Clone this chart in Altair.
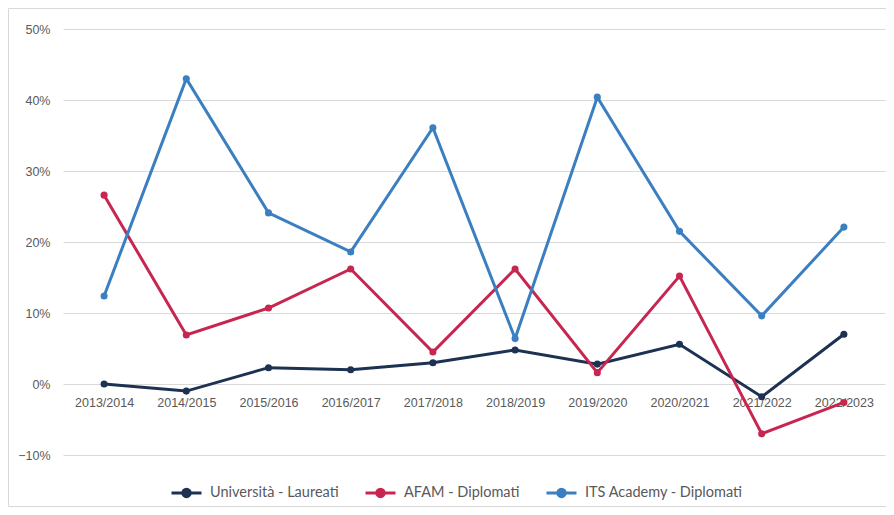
import altair as alt
import pandas as pd

anni = ["2013/2014", "2014/2015", "2015/2016", "2016/2017", "2017/2018",
        "2018/2019", "2019/2020", "2020/2021", "2021/2022", "2022/2023"]
serie = ["Università - Laureati", "AFAM - Diplomati", "ITS Academy - Diplomati"]
universita = [0.0, -1.0, 2.3, 2.0, 3.0, 4.8, 2.8, 5.6, -1.8, 7.0]
afam = [26.6, 6.9, 10.7, 16.2, 4.5, 16.2, 1.6, 15.2, -7.0, -2.6]
its = [12.4, 43.0, 24.1, 18.6, 36.1, 6.4, 40.4, 21.5, 9.6, 22.1]
colori = ["#1d3152", "#c72650", "#3b7fc1"]

rows = []
for s, vals in zip(serie, [universita, afam, its]):
    for a, v in zip(anni, vals):
        rows.append({"anno": a, "serie": s, "valore": v / 100})
df = pd.DataFrame(rows)

color = alt.Color(
    "serie:N",
    scale=alt.Scale(domain=serie, range=colori),
    legend=alt.Legend(
        title=None, orient="none", direction="horizontal",
        legendX=107, legendY=447,
        symbolType="M-1,0L1,0M-0.25,0a0.25,0.25 0 1,0 0.5,0a0.25,0.25 0 1,0 -0.5,0",
        symbolSize=900, symbolStrokeWidth=3,
        labelFont="Lato", labelFontSize=14.5, labelColor="#595959",
        columnPadding=20, labelOffset=7,
    ),
)

x = alt.X(
    "anno:N", sort=anni, title=None,
    scale=alt.Scale(paddingInner=0, paddingOuter=0),
    axis=alt.Axis(offset=-71, domain=False, ticks=False, labelAngle=0,
                  labelPadding=12, labelFont="Liberation Sans", labelFontSize=12.5,
                  labelColor="#595959", grid=False),
)
y = alt.Y(
    "valore:Q", title=None,
    scale=alt.Scale(domain=[-0.1, 0.5], nice=False, zero=False),
    axis=alt.Axis(format=".0%", values=[-0.1, 0, 0.1, 0.2, 0.3, 0.4, 0.5],
                  domain=False, ticks=False, labelPadding=13,
                  labelFont="Liberation Sans", labelFontSize=12.5,
                  labelColor="#595959", gridColor="#d9d9d9", gridWidth=1),
)

border = alt.Chart(pd.DataFrame({"a": [0]})).mark_rect(
    fill=None, stroke="#d9d9d9", strokeWidth=1
).encode(x=alt.value(-54.5), x2=alt.value(840), y=alt.value(-20.5), y2=alt.value(477.5))

base = alt.Chart(df)
lines = base.mark_line(strokeWidth=3).encode(x=x, y=y, color=color)
points = base.mark_circle(size=50, opacity=1).encode(x=x, y=y, color=color)

chart = alt.layer(border, lines, points).properties(
    width=822, height=426,
    background="white",
    autosize=alt.AutoSizeParams(type="none"),
    padding={"left": 55, "top": 21, "right": 1, "bottom": 52},
).configure_view(stroke=None)

chart.save("out.html", embed_options={"renderer": "svg", "actions": False})
